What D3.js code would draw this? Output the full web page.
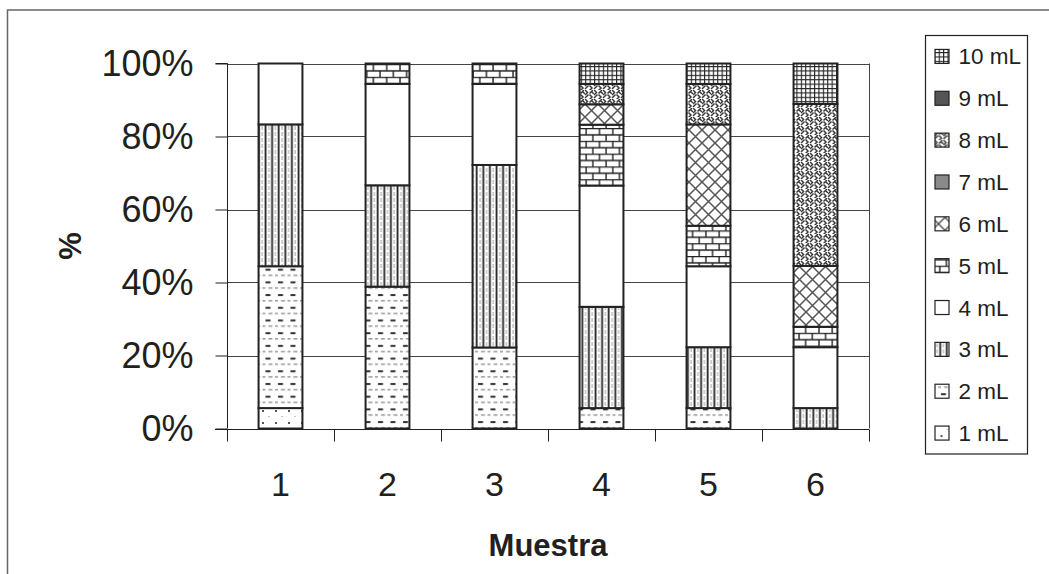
<!DOCTYPE html>
<html>
<head>
<meta charset="utf-8">
<script src="https://cdn.jsdelivr.net/npm/d3@7"></script>
<style>
  html, body { margin: 0; padding: 0; background: #fff; }
  svg { display: block; font-family: "Liberation Sans", Arial, sans-serif; }
</style>
</head>
<body>
<div id="chart"></div>
<script>
// samples on the x axis
const samples = ['1', '2', '3', '4', '5', '6'];
// volume classes, bottom of the stack first
const volumes = ['1 mL', '2 mL', '3 mL', '4 mL', '5 mL', '6 mL', '7 mL', '8 mL', '9 mL', '10 mL'];

// share (%) of each volume in each sample
const mL1  = [5.6, 0, 0, 0, 0, 0];
const mL2  = [38.9, 38.9, 22.2, 5.6, 5.6, 0];
const mL3  = [38.9, 27.8, 50.0, 27.8, 16.7, 5.6];
const mL4  = [16.7, 27.8, 22.2, 33.3, 22.2, 16.7];
const mL5  = [0, 5.6, 5.6, 16.7, 11.1, 5.6];
const mL6  = [0, 0, 0, 5.6, 27.8, 16.7];
const mL7  = [0, 0, 0, 0, 0, 0];
const mL8  = [0, 0, 0, 5.6, 11.1, 44.4];
const mL9  = [0, 0, 0, 0, 0, 0];
const mL10 = [0, 0, 0, 5.6, 5.6, 11.1];

const yTicks = [0, 0.2, 0.4, 0.6, 0.8, 1];

const series = [mL1, mL2, mL3, mL4, mL5, mL6, mL7, mL8, mL9, mL10];
const table = samples.map((s, i) => {
    const row = {sample: s};
    volumes.forEach((v, j) => row[v] = series[j][i]);
    return row;
});

const W = 1049, H = 574;
const plot = {left: 227, right: 869, top: 63.5, bottom: 428.5};
const ink = '#231f20';

const svg = d3.select('#chart').append('svg')
    .attr('width', W)
    .attr('height', H);

// ---- fill patterns, one per volume ----
const defs = svg.append('defs');

function pattern(id, w, h, draw) {
    const p = defs.append('pattern')
        .attr('id', id)
        .attr('patternUnits', 'userSpaceOnUse')
        .attr('width', w)
        .attr('height', h);
    p.append('rect').attr('width', w).attr('height', h).attr('fill', '#fff');
    draw(p);
}

// 1 mL: sparse dots
pattern('p1', 13, 12, p => {
    p.append('rect').attr('x', 2).attr('y', 2).attr('width', 2).attr('height', 2).attr('fill', '#555');
    p.append('rect').attr('x', 8.5).attr('y', 8).attr('width', 1).attr('height', 1).attr('fill', '#888');
});
// 2 mL: dashes
pattern('p2', 12.5, 12.7, p => {
    p.append('rect').attr('x', 3).attr('y', 2).attr('width', 5).attr('height', 2).attr('fill', '#333');
    p.append('path').attr('d', 'M0,8.7 H3 M6,8.7 H10').attr('stroke', '#555').attr('stroke-width', 0.9);
});
// 3 mL: vertical lines
pattern('p3', 6.6, 6, p => {
    p.append('path').attr('d', 'M1.5,0 V6').attr('stroke', '#222').attr('stroke-width', 1.8);
    p.append('path').attr('d', 'M4.8,0 V6').attr('stroke', '#888').attr('stroke-width', 0.8)
        .attr('stroke-dasharray', '4,2');
});
// 4 mL: plain white
pattern('p4', 4, 4, p => {});
// 5 mL: bricks
pattern('p5', 13.3, 12.8, p => {
    p.append('path')
        .attr('d', 'M0,0.5 H13.3 M0,6.9 H13.3 M1,0.5 V6.9 M7.65,6.9 V12.8')
        .attr('stroke', '#222').attr('stroke-width', 1.4).attr('fill', 'none');
});
// 6 mL: diagonal lattice
pattern('p6', 13, 13, p => {
    p.append('path')
        .attr('d', 'M0,0 L13,13 M13,0 L0,13')
        .attr('stroke', '#555').attr('stroke-width', 1.5).attr('fill', 'none');
});
// 7 mL: medium gray
pattern('p7', 4, 4, p => {
    p.append('rect').attr('width', 4).attr('height', 4).attr('fill', '#8a8a8a');
});
// 8 mL: weave
pattern('p8', 9, 9, p => {
    p.append('path')
        .attr('d', 'M0,0 L2.5,2.5 L0,5 M4.5,4.5 L7,7 L4.5,9.5 M4.5,3.5 L8,0 M0,8 L3.5,4.5 M9,8 L12.5,4.5 M7,2 L9,4')
        .attr('stroke', '#3a3a3a').attr('stroke-width', 1.5).attr('fill', 'none');
});
// 9 mL: dark gray
pattern('p9', 4, 4, p => {
    p.append('rect').attr('width', 4).attr('height', 4).attr('fill', '#555');
});
// 10 mL: small grid
pattern('p10', 4.4, 4.4, p => {
    p.append('path')
        .attr('d', 'M0.5,0 V4.4 M0,0.5 H4.4')
        .attr('stroke', '#222').attr('stroke-width', 1.2);
});

const fillOf = v => `url(#p${volumes.indexOf(v) + 1})`;

// ---- outer frame ----
svg.append('rect')
    .attr('x', 7.5).attr('y', 10)
    .attr('width', 1200).attr('height', 800)
    .attr('fill', 'none')
    .attr('stroke', '#666')
    .attr('stroke-width', 1.5);

// ---- scales ----
const x = d3.scaleBand()
    .domain(samples)
    .range([plot.left, plot.right])
    .paddingInner(0.59)
    .paddingOuter(0.295);

const xEdge = d3.scaleLinear()
    .domain([0, samples.length])
    .range([plot.left, plot.right]);

const y = d3.scaleLinear()
    .domain([0, 1])
    .range([plot.bottom, plot.top]);

// gridlines
svg.append('g')
    .selectAll('line')
    .data(yTicks.filter(d => d > 0))
    .enter().append('line')
    .attr('x1', plot.left).attr('x2', plot.right)
    .attr('y1', d => Math.round(y(d)) + 0.5).attr('y2', d => Math.round(y(d)) + 0.5)
    .attr('stroke', '#444')
    .attr('stroke-width', 1);

// right border of the plot
svg.append('line')
    .attr('x1', plot.right + 0.5).attr('x2', plot.right + 0.5)
    .attr('y1', plot.top).attr('y2', plot.bottom)
    .attr('stroke', '#444');

// y axis
const yAxis = svg.append('g')
    .attr('transform', `translate(${plot.left + 0.5},0)`)
    .call(d3.axisLeft(y).tickValues(yTicks).tickSize(12).tickPadding(22)
        .tickFormat(d3.format('.0%')));
yAxis.select('.domain').attr('stroke', ink).attr('d', `M-12,${plot.top}H0V${plot.bottom}`);
yAxis.selectAll('.tick line').attr('stroke', ink);
yAxis.selectAll('.tick text')
    .attr('fill', ink)
    .style('font-size', '36px')
    .attr('font-family', null);

// x axis: ticks on the category boundaries, labels in the middle
const xAxis = svg.append('g')
    .attr('transform', `translate(0,${Math.round(plot.bottom) + 0.5})`)
    .call(d3.axisBottom(xEdge).tickValues(d3.range(samples.length + 1)).tickSize(12).tickFormat(''));
xAxis.select('.domain').attr('stroke', ink).attr('d', `M${plot.left - 12},0H${plot.right}`);
xAxis.selectAll('.tick line').attr('stroke', ink);

svg.append('g')
    .selectAll('text')
    .data(samples)
    .enter().append('text')
    .attr('x', d => x(d) + x.bandwidth() / 2)
    .attr('y', 496)
    .attr('text-anchor', 'middle')
    .attr('fill', ink)
    .style('font-size', '34px')
    .text(d => d);

// ---- stacked bars ----
const stack = d3.stack()
    .keys(volumes)
    .offset(d3.stackOffsetExpand);

const layers = svg.append('g')
    .selectAll('g')
    .data(stack(table))
    .enter().append('g')
    .attr('fill', d => fillOf(d.key));

layers.selectAll('rect')
    .data(d => d.filter(s => s[1] - s[0] > 0))
    .enter().append('rect')
    .attr('x', d => x(d.data.sample))
    .attr('width', x.bandwidth())
    .attr('y', d => y(d[1]))
    .attr('height', d => y(d[0]) - y(d[1]))
    .attr('stroke', '#222')
    .attr('stroke-width', 2);

// ---- axis titles ----
svg.append('text')
    .attr('x', (plot.left + plot.right) / 2)
    .attr('y', 556)
    .attr('text-anchor', 'middle')
    .attr('fill', ink)
    .style('font-size', '31px')
    .style('font-weight', 'bold')
    .text('Muestra');

svg.append('text')
    .attr('transform', 'translate(70,246) rotate(-90)')
    .attr('text-anchor', 'middle')
    .attr('dominant-baseline', 'central')
    .attr('fill', ink)
    .style('font-size', '31px')
    .style('font-weight', 'bold')
    .text('%');

// ---- legend ----
const legend = {x: 925.5, y: 35.5, w: 102, h: 418.5};
const rowH = legend.h / volumes.length;

svg.append('rect')
    .attr('x', legend.x).attr('y', legend.y)
    .attr('width', legend.w).attr('height', legend.h)
    .attr('fill', '#fff')
    .attr('stroke', ink)
    .attr('stroke-width', 1.2);

const items = svg.append('g')
    .selectAll('g')
    .data(volumes.slice().reverse())
    .enter().append('g')
    .attr('transform', (d, i) => `translate(${legend.x},${legend.y + rowH * (i + 0.5)})`);

items.append('rect')
    .attr('x', 9.5).attr('y', -7)
    .attr('width', 14).attr('height', 14)
    .attr('fill', d => fillOf(d))
    .attr('stroke', '#222')
    .attr('stroke-width', 1.2);

items.append('text')
    .attr('x', 33)
    .attr('y', 8)
    .attr('fill', ink)
    .style('font-size', '22.5px')
    .text(d => d);
</script>
</body>
</html>
